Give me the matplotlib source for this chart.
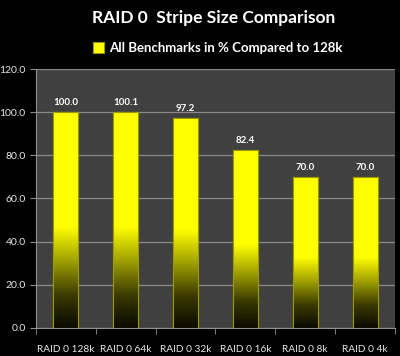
import numpy as np
import matplotlib.pyplot as plt
from matplotlib.colors import LinearSegmentedColormap

# chart data
categories = ['RAID 0 128k', 'RAID 0 64k', 'RAID 0 32k', 'RAID 0 16k', 'RAID 0 8k', 'RAID 0 4k']
values = [100.0, 100.1, 97.2, 82.4, 70.0, 70.0]
yticks = [0, 20, 40, 60, 80, 100, 120]
series_name = 'All Benchmarks in % Compared to 128k'

plt.rcParams['font.family'] = ['Lato', 'DejaVu Sans']

fig = plt.figure(figsize=(4, 3.56), dpi=100, facecolor='black')
ax = fig.add_axes([0.09, 0.079, 0.8975, 0.727])
ax.set_facecolor('#404040')

# yellow fading to black towards the bottom of each bar
cmap = LinearSegmentedColormap.from_list('fade', [
    (0.0, '#0a0a00'), (0.15, '#3a3a00'), (0.3, '#9a9a00'),
    (0.47, '#ffff00'), (1.0, '#ffff00')])
grad = np.linspace(0, 1, 256).reshape(-1, 1)

x = np.arange(len(categories))
bars = ax.bar(x, values, width=0.42, color='#ffff00', edgecolor='#9a9a00',
              linewidth=0.8, zorder=3)
for b in bars:
    bx, by = b.get_x(), b.get_y()
    w, h = b.get_width(), b.get_height()
    im = ax.imshow(grad, cmap=cmap, origin='lower', aspect='auto',
                   extent=[bx, bx + w, by, by + h], zorder=3.5)
    im.set_clip_path(b)
    ax.add_patch(plt.Rectangle((bx, by), w, h, fill=False,
                               edgecolor='#9a9a00', linewidth=0.8, zorder=4))
    ax.text(bx + w / 2, h + 2.5, f'{h:.1f}', ha='center', va='bottom',
            color='white', fontsize=7, fontweight='bold', zorder=5)

ax.set_xlim(-0.5, len(categories) - 0.5)
ax.set_ylim(0, 120)
ax.set_yticks(yticks)
ax.set_yticklabels([f'{v:.1f}' for v in yticks])
ax.set_xticks(x)
ax.set_xticklabels(categories)
ax.set_xticks(np.arange(-0.5, len(categories)), minor=True)
ax.tick_params(axis='x', which='major', length=0, pad=12, colors='#e8e8e8', labelsize=7.3)
ax.tick_params(axis='x', which='minor', length=4, color='#909090')
ax.tick_params(axis='y', length=4, color='#909090', colors='#e8e8e8', labelsize=7.5)
ax.grid(axis='y', color='#8a8a8a', linewidth=0.9, zorder=1)
for s in ['top', 'right']:
    ax.spines[s].set_visible(False)
for s in ['left', 'bottom']:
    ax.spines[s].set_color('#909090')

fig.text(0.535, 0.95, 'RAID 0  Stripe Size Comparison', ha='center', va='center',
         color='white', fontsize=12.5, fontweight='bold')
handle = plt.Rectangle((0, 0), 1, 1, facecolor='#ffff00', edgecolor='#9a9a00', linewidth=0.8)
leg = fig.legend(handles=[handle], labels=[series_name], loc='center',
                 bbox_to_anchor=(0.545, 0.865), frameon=False, fontsize=9.5,
                 handlelength=0.8, handleheight=0.8, handletextpad=0.4)
for t in leg.get_texts():
    t.set_color('white')
    t.set_fontweight('bold')

fig.savefig('out.png', dpi=100, facecolor='black')
